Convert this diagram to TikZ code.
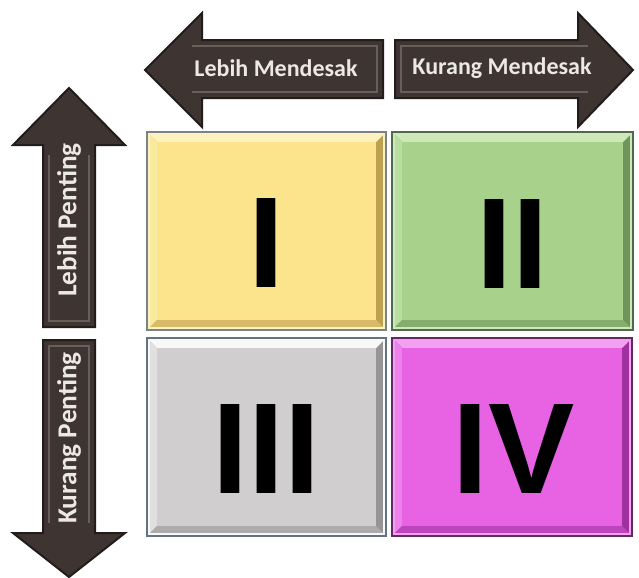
\documentclass[tikz,border=0pt]{standalone}
\usepackage{fontspec}
\setmainfont{Carlito}
\newfontfamily\numfont{Liberation Sans}

\definecolor{arrowfill}{RGB}{62,52,49}
\definecolor{arrowedge}{RGB}{34,28,26}
\definecolor{arrowlite}{RGB}{104,94,90}
\definecolor{labeltext}{RGB}{236,232,228}
% quadrant colours: main, light, side, dark, edge
\definecolor{yelmain}{RGB}{252,228,140}
\definecolor{yellite}{RGB}{253,242,190}
\definecolor{yelside}{RGB}{250,234,160}
\definecolor{yeldark}{RGB}{190,160,80}
\definecolor{yeledge}{RGB}{120,130,135}
\definecolor{grnmain}{RGB}{168,210,140}
\definecolor{grnlite}{RGB}{205,232,185}
\definecolor{grnside}{RGB}{185,222,160}
\definecolor{grndark}{RGB}{110,150,90}
\definecolor{grnedge}{RGB}{80,105,80}
\definecolor{gramain}{RGB}{208,206,206}
\definecolor{gralite}{RGB}{248,248,248}
\definecolor{graside}{RGB}{225,224,224}
\definecolor{gradark}{RGB}{150,148,148}
\definecolor{graedge}{RGB}{100,115,130}
\definecolor{magmain}{RGB}{232,98,228}
\definecolor{maglite}{RGB}{244,160,240}
\definecolor{magside}{RGB}{238,128,234}
\definecolor{magdark}{RGB}{160,50,160}
\definecolor{magedge}{RGB}{100,40,100}

\tikzset{every picture/.style={line width=0.75pt}}
\tikzset{
  bigarrow/.style={fill=arrowfill, draw=arrowedge, line width=1.5, line join=miter},
  arrowinset/.style={draw=arrowlite, line width=0.9},
  arrowlabel/.style={text=labeltext, font=\bfseries\fontsize{18}{21}\selectfont, inner sep=0.75pt},
  sidelabel/.style={arrowlabel, rotate=90, font=\bfseries\fontsize{20.5}{23}\selectfont},
  numeral/.style={anchor=base, inner sep=0pt, font=\numfont\bfseries\fontsize{97}{100}\selectfont}
}

% bevelled box: x1, y1, x2, y2, colour prefix
\newcommand{\bevelbox}[5]{%
  \fill[#5dark] (#1,#2) rectangle (#3,#4);
  \fill[#5lite] (#1,#2) -- (#3,#2) -- (#3-10,#2+10) -- (#1+10,#2+10) -- cycle;
  \fill[#5side] (#1,#2) -- (#1+10,#2+10) -- (#1+10,#4-10) -- (#1,#4) -- cycle;
  \fill[#5dark!60!#5main] (#1,#4) -- (#1+10,#4-10) -- (#3-10,#4-10) -- (#3,#4) -- cycle;
  \fill[#5main] (#1+10,#2+10) rectangle (#3-10,#4-10);
  \draw[#5lite, line width=0.8] (#1+2,#2+2) rectangle (#3-2,#4-2);
  \draw[#5edge, line width=1.2] (#1,#2) rectangle (#3,#4);
}

\begin{document}
\begin{tikzpicture}[x=0.75pt,y=0.75pt,yscale=-1,xscale=1]
\useasboundingbox[fill=white] (0,0) rectangle (639,578);

%Shape: Left Arrow [id:urgent_more]
\draw [bigarrow] (145,70) -- (202,13) -- (202,40) -- (383,40) -- (383,98) -- (202,98) -- (202,127) -- cycle ;
\draw [arrowinset] (192,46) -- (377,46) -- (377,92) -- (192,92) ;
%Shape: Right Arrow [id:urgent_less]
\draw [bigarrow] (633,70) -- (578,13) -- (578,40) -- (395,40) -- (395,98) -- (578,98) -- (578,127) -- cycle ;
\draw [arrowinset] (588,46) -- (401,46) -- (401,92) -- (588,92) ;
%Shape: Up Arrow [id:important_more]
\draw [bigarrow] (69,88) -- (13,145) -- (43,145) -- (43,327) -- (95,327) -- (95,145) -- (125,145) -- cycle ;
\draw [arrowinset] (49,155) -- (49,321) -- (89,321) -- (89,155) ;
%Shape: Down Arrow [id:important_less]
\draw [bigarrow] (69,577) -- (13,533) -- (43,533) -- (43,340) -- (95,340) -- (95,533) -- (125,533) -- cycle ;
\draw [arrowinset] (49,523) -- (49,346) -- (89,346) -- (89,523) ;

%Shape: Quadrant Boxes
\bevelbox{147}{132}{386}{330}{yel}
\bevelbox{392}{132}{633}{330}{grn}
\bevelbox{147}{338}{386}{536}{gra}
\bevelbox{392}{338}{632}{536}{mag}

% Text Node
\node [arrowlabel] (lbl_more_urgent) at (276,68) {Lebih Mendesak};
% Text Node
\node [arrowlabel] (lbl_less_urgent) at (502,68) {Kurang Mendesak};
% Text Node
\node [sidelabel] (lbl_more_important) at (69,220) {Lebih Penting};
% Text Node
\node [sidelabel] (lbl_less_important) at (69,438) {Kurang Penting};

% Text Node
\node [numeral] (q_one) at (266,287) {I};
% Text Node
\node [numeral] (q_two) at (512,288) {II};
% Text Node
\node [numeral] (q_three) at (266,493) {III};
% Text Node
\node [numeral] (q_four) at (514,493) {IV};

\end{tikzpicture}
\end{document}
